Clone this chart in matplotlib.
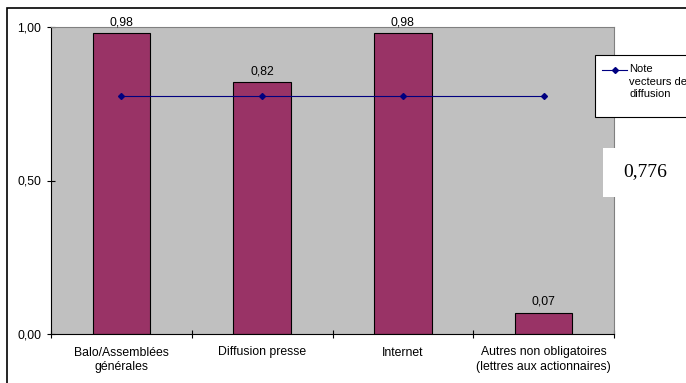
import matplotlib.pyplot as plt
from matplotlib.patches import Rectangle
from matplotlib.lines import Line2D

categories = ["Balo/Assemblées\ngénérales", "Diffusion presse", "Internet",
              "Autres non obligatoires\n(lettres aux actionnaires)"]
valeurs = [0.98, 0.82, 0.98, 0.07]
note = [0.776, 0.776, 0.776, 0.776]
yticks = [0.0, 0.5, 1.0]

plt.rcParams['font.family'] = ['Liberation Sans', 'DejaVu Sans']
fs = 8.8

fig = plt.figure(figsize=(6.86, 3.83), dpi=100)
ax = fig.add_axes([51/686, 1 - 334/383, (614 - 51)/686, (334 - 27)/383])
ax.set_facecolor('#c0c0c0')

x = list(range(len(categories)))
ax.bar(x, valeurs, width=0.41, color='#993366', edgecolor='black', linewidth=0.8, zorder=2)
for xi, v in zip(x, valeurs):
    ax.text(xi, v + 0.015, f"{v:.2f}".replace('.', ','), ha='center', va='bottom', fontsize=fs)

ax.plot(x, note, color='#000080', marker='D', markersize=3, linewidth=0.8, zorder=3)

ax.set_xlim(-0.5, 3.5)
ax.set_ylim(0, 1)
ax.set_yticks(yticks)
ax.set_yticklabels([f"{t:.2f}".replace('.', ',') for t in yticks], fontsize=fs)
ax.set_xticks([-0.5, 0.5, 1.5, 2.5, 3.5])
ax.set_xticklabels([])
ax.set_xticks(x, minor=True)
ax.set_xticklabels(categories, minor=True, fontsize=fs, linespacing=1.25)
ax.tick_params(axis='x', which='minor', length=0, pad=9)
ax.tick_params(axis='x', which='major', direction='inout', length=6, width=0.8)
ax.tick_params(axis='y', direction='inout', length=6, width=0.8, pad=4)
for s in ['top', 'right']:
    ax.spines[s].set_color('#808080')
for s in ['left', 'bottom']:
    ax.spines[s].set_color('black')
    ax.spines[s].set_linewidth(0.8)

# cadre autour du graphique
fig.patches.append(Rectangle((7/686, -0.1), 1.0, 1 - 8/383 + 0.1, transform=fig.transFigure,
                             fill=False, edgecolor='black', linewidth=1.2))

# légende dessinée à la main (coupée au bord droit, comme l'original)
fig.patches.append(Rectangle((595/686, 1 - 117/383), 0.2, 62/383, transform=fig.transFigure,
                             facecolor='white', edgecolor='black', linewidth=0.8, zorder=5))
fig.lines.append(Line2D([602/686, 614.5/686, 627/686], [1 - 70/383] * 3, transform=fig.transFigure,
                        color='#000080', marker='D', markersize=3, markevery=[1],
                        linewidth=0.8, zorder=6))
fig.text(629/686, 1 - 64/383, "Note\nvecteurs de\ndiffusion", fontsize=8.0, va='top',
         ha='left', linespacing=1.32, zorder=7)

# boîte 0,776
fig.patches.append(Rectangle((603/686, 1 - 197/383), 0.2, 49/383, transform=fig.transFigure,
                             facecolor='white', edgecolor='none', zorder=5))
fig.text(645/686, 1 - 172/383, "0,776", fontsize=14, family='Liberation Serif',
         ha='center', va='center', zorder=7)

fig.savefig('out.png', dpi=100)
